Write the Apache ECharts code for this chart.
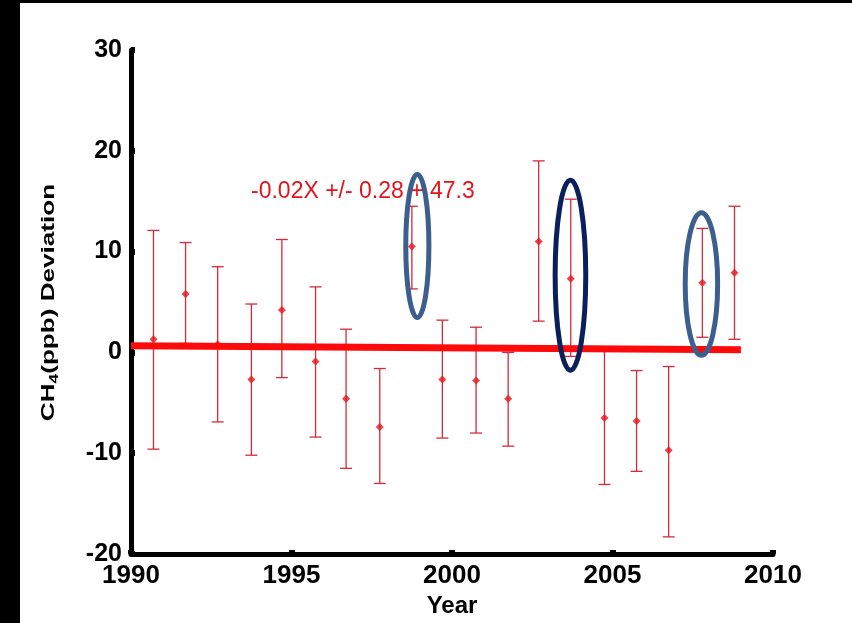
<!DOCTYPE html>
<html>
<head>
<meta charset="utf-8">
<script src="https://cdn.jsdelivr.net/npm/echarts@6/dist/echarts.min.js"></script>
<style>
html,body{margin:0;padding:0;background:#fff;overflow:hidden;}
#chart{width:852px;height:623px;}
</style>
</head>
<body>
<div id="chart"></div>
<script>
// ---- data ----
var years = [1990.7, 1991.7, 1992.7, 1993.75, 1994.7, 1995.75, 1996.7, 1997.75, 1998.75, 1999.7,
             2000.75, 2001.75, 2002.7, 2003.7, 2004.75, 2005.75, 2006.75, 2007.8, 2008.8];
var means = [1.3, 5.8, 0.8, -2.7, 4.2, -0.9, -4.6, -7.4, 10.5, -2.7,
             -2.8, -4.6, 11.0, 7.3, -6.5, -6.8, -9.7, 6.9, 7.9];
var lows  = [-9.6, 0.9, -6.9, -10.2, -2.5, -8.4, -11.5, -13.0, 6.3, -8.5,
             -8.0, -9.3, 3.1, -0.4, -13.1, -11.8, -18.3, 1.5, 1.3];
var highs = [12.1, 10.9, 8.5, 4.8, 11.2, 6.5, 2.3, -1.6, 14.5, 3.2,
             2.5, 0.0, 19.0, 15.2, 0.2, -1.8, -1.4, 12.3, 14.5];
var fitYears = [1990, 2009];
var fitValues = [0.65, 0.27];
var fitLabel = '-0.02X +/- 0.28 + 47.3';
var xTicks = [1990, 1995, 2000, 2005, 2010];
var yTicks = [-20, -10, 0, 10, 20, 30];
// highlight ellipses: centre year, centre value, half-width (years), half-height (ppb)
var ellipseX  = [1998.92, 2003.69, 2007.77];
var ellipseY  = [10.55, 7.66, 6.79];
var ellipseRX = [0.36, 0.477, 0.505];
var ellipseRY = [7.1, 9.42, 7.07];
var ellipseColors = ['#3c5f8e', '#0b1f5a', '#3c5f8e'];

var barData = years.map(function (y, i) { return [y, lows[i], highs[i]]; });
var meanData = years.map(function (y, i) { return [y, means[i]]; });
var fitData = fitYears.map(function (y, i) { return [y, fitValues[i]]; });
var ellData = ellipseX.map(function (x, i) { return [x, ellipseY[i], ellipseRX[i], ellipseRY[i], i]; });

var chart = echarts.init(document.getElementById('chart'), null, {renderer: 'canvas'});
var barColor = '#d42a3c';
var option = {
  backgroundColor: '#ffffff',
  animation: false,
  grid: {left: 131, right: 79, top: 50, bottom: 66, containLabel: false},
  xAxis: {
    type: 'value', min: 1990, max: 2010, interval: 5,
    name: 'Year', nameLocation: 'middle', nameGap: 40,
    nameTextStyle: {fontFamily: 'Liberation Sans', fontWeight: 'bold', fontSize: 24, color: '#000'},
    axisLine: {onZero: false, lineStyle: {color: '#000', width: 5}},
    axisTick: {inside: true, length: 4, lineStyle: {color: '#000', width: 6}},
    axisLabel: {fontFamily: 'Liberation Sans', fontWeight: 'bold', fontSize: 26, color: '#000', margin: 9,
      formatter: function (v) { return xTicks.indexOf(v) >= 0 ? String(v) : ''; }},
    splitLine: {show: false}
  },
  yAxis: {
    type: 'value', min: -20, max: 30, interval: 10,
    axisLine: {onZero: false, lineStyle: {color: '#000', width: 5}},
    axisTick: {inside: true, length: 4, lineStyle: {color: '#000', width: 6}},
    axisLabel: {fontFamily: 'Liberation Sans', fontWeight: 'bold', fontSize: 25, color: '#000', margin: 9,
      formatter: function (v) { return yTicks.indexOf(v) >= 0 ? String(v) : ''; }},
    splitLine: {show: false}
  },
  graphic: [
    {type: 'rect', left: 0, top: 0, shape: {x: 0, y: 0, width: 20, height: 623}, style: {fill: '#000'}, z: 100},
    {type: 'rect', left: 0, top: 0, shape: {x: 0, y: 0, width: 852, height: 3}, style: {fill: '#000'}, z: 100},
    {type: 'text', x: 251, y: 191.5, z: 50,
      style: {text: fitLabel, fill: '#e4121c', font: '23px "Liberation Sans"', align: 'left', verticalAlign: 'middle'}},
    {type: 'text', x: 49, y: 302.5, rotation: Math.PI / 2, scaleX: 1.45, scaleY: 1, z: 50,
      style: {
        text: '{a|CH}{s|4}{a|(ppb) Deviation}',
        align: 'center', verticalAlign: 'middle',
        rich: {
          a: {fontFamily: 'Liberation Sans', fontWeight: 'bold', fontSize: 18, lineHeight: 24, fill: '#000', color: '#000', verticalAlign: 'middle'},
          s: {fontFamily: 'Liberation Sans', fontWeight: 'bold', fontSize: 12, lineHeight: 12, fill: '#000', color: '#000', verticalAlign: 'bottom'}
        }
      }}
  ],
  series: [
    {
      type: 'custom', name: 'error', data: barData, z: 2,
      encode: {x: 0, y: [1, 2]},
      renderItem: function (params, api) {
        var x = api.value(0);
        var lo = api.coord([x, api.value(1)]);
        var hi = api.coord([x, api.value(2)]);
        var hw = 6;
        var st = {stroke: barColor, lineWidth: 1.3};
        return {type: 'group', children: [
          {type: 'line', shape: {x1: lo[0], y1: lo[1], x2: hi[0], y2: hi[1]}, style: st},
          {type: 'line', shape: {x1: lo[0] - hw, y1: lo[1], x2: lo[0] + hw, y2: lo[1]}, style: st},
          {type: 'line', shape: {x1: hi[0] - hw, y1: hi[1], x2: hi[0] + hw, y2: hi[1]}, style: st}
        ]};
      }
    },
    {
      type: 'scatter', name: 'mean', data: meanData, z: 3,
      symbol: 'diamond', symbolSize: 8,
      itemStyle: {color: '#e8141c'}
    },
    {
      type: 'line', name: 'fit', data: fitData, z: 4,
      showSymbol: false, symbol: 'none',
      lineStyle: {color: '#ff0a0a', width: 7}
    },
    {
      type: 'custom', name: 'highlight', data: ellData, z: 5, clip: false,
      encode: {x: 0, y: 1},
      renderItem: function (params, api) {
        var c = api.coord([api.value(0), api.value(1)]);
        var s = api.size([api.value(2), api.value(3)]);
        return {type: 'ellipse', shape: {cx: c[0], cy: c[1], rx: s[0], ry: s[1]},
          style: {fill: 'none', stroke: ellipseColors[api.value(4)], lineWidth: 5}};
      }
    }
  ]
};
chart.setOption(option);
</script>
</body>
</html>
